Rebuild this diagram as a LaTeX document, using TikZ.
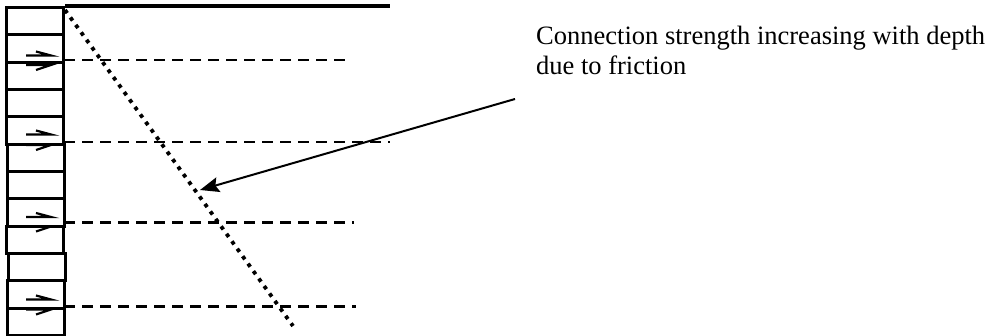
\documentclass[tikz,border=0pt]{standalone}
\usepackage{fontspec}
\setmainfont{Liberation Serif}
\usetikzlibrary{arrows.meta}
\begin{document}
\begin{tikzpicture}[x=1pt,y=-1pt,
  cell/.style={draw, line width=3pt, rectangle, inner sep=0pt,
    minimum width=57pt, minimum height=27.33pt, anchor=north west},
  level/.style={line width=2.4pt, dash pattern=on 11pt off 7pt},
  slipline/.style={line width=3.8pt, dash pattern=on 3.8pt off 5.4pt},
  harpoon/.style={line width=2.2pt},
  ground/.style={line width=4pt},
  pointer/.style={line width=2pt, -{Stealth[length=19pt,width=15pt,inset=3pt]}}]
  \useasboundingbox (0,0) rectangle (989,336);

  % stack of cells along the pile
  \foreach \i/\dx in {1/0,2/0,3/0,4/0,5/0,6/1,7/1,8/1,9/0,10/1.5,11/1,12/1}{
    \node[cell] (cell\i) at (5+\dx, {6+(\i-1)*27.33}) {};
  }

  % ground surface
  \draw[ground] (cell1.north east) -- ++(325,0) coordinate (gend);

  % slip line with friction growing with depth
  \coordinate (dtop) at (65,10);
  \coordinate (dbot) at (293,326);
  \draw[slipline] (dtop) -- (dbot);

  % horizontal levels and paired harpoons at each cell joint
  \foreach \b/\len/\up/\lo in {60/288/-4.5/5, 142/326/-7.5/3, 222.5/290/-5.5/4, 306.5/292/-7/3}{
    \draw[level] (64,\b) -- ++(\len,0);
    \draw[harpoon] (26,\b+\up) -- (51,\b+\up) -- (36,\b+\up-4);
    \draw[harpoon] (26,\b+\lo) -- (51,\b+\lo) -- (36,\b+\lo+5);
  }

  % annotation (base anchor sits on the last line)
  \node[anchor=base west, align=left, inner sep=0pt,
        font=\fontsize{26.5}{30}\selectfont] (note) at (536,75)
    {Connection strength increasing with depth\\due to friction};
  \coordinate (tail) at (515,99);
  \coordinate (tip) at (200,190);
  \draw[pointer] (tail) -- (tip);
\end{tikzpicture}
\end{document}
